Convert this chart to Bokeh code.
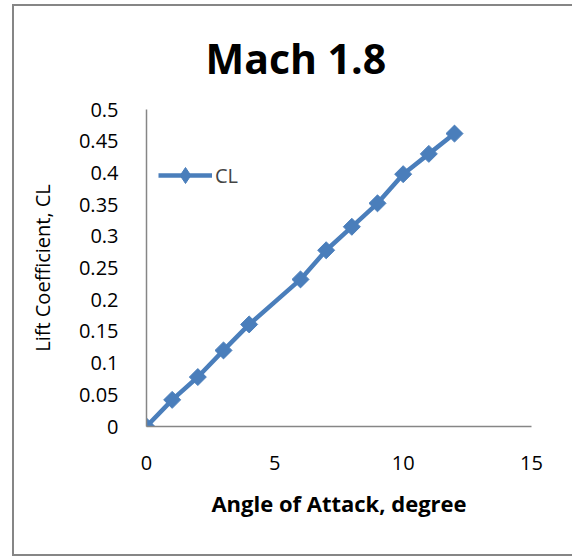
import math
from bokeh.plotting import figure
from bokeh.models import FixedTicker, Range1d, Legend
from bokeh.embed import file_html
from bokeh.resources import INLINE

# data
aoa_deg = [0, 1, 2, 3, 4, 6, 7, 8, 9, 10, 11, 12]
cl_values = [0, 0.042, 0.078, 0.12, 0.161, 0.232, 0.278, 0.315, 0.352, 0.398, 0.43, 0.462]
x_ticks = [0, 5, 10, 15]
y_ticks = [0, 0.05, 0.1, 0.15, 0.2, 0.25, 0.3, 0.35, 0.4, 0.45, 0.5]
series_name = "CL"

FONT = "Open Sans"
BLUE = "#4a7ebb"
GRAY = "#868686"

p = figure(width=572, height=557, output_backend="svg", toolbar_location=None,
           x_range=Range1d(0, 15), y_range=Range1d(0, 0.5),
           min_border_left=146, min_border_right=41, min_border_top=109, min_border_bottom=131)

# outer chart-area border drawn as page background behind a transparent canvas
g = f"linear-gradient({GRAY},{GRAY})"
p.border_fill_color = None
p.background_fill_color = "white"
p.styles = {
    "background": (f"{g} 12px 4px / 2px 552px no-repeat, "
                   f"{g} 12px 4px / 570px 2px no-repeat, "
                   f"{g} 12px 554px / 570px 2px no-repeat, white"),
}

p.title.text = "Mach 1.8"
p.title.text_font = FONT
p.title.text_font_size = "41px"
p.title.text_font_style = "bold"
p.title.text_color = "black"
p.title.align = "left"
p.title.offset = 59
p.title.standoff = 48

p.outline_line_color = None
p.grid.visible = False

for ax in (p.xaxis[0], p.yaxis[0]):
    ax.axis_line_color = GRAY
    ax.axis_line_width = 1.5
    ax.major_tick_line_color = None
    ax.minor_tick_line_color = None
    ax.major_label_text_font = FONT
    ax.major_label_text_font_size = "20px"
    ax.major_label_text_color = "black"
    ax.axis_label_text_font = FONT
    ax.axis_label_text_color = "black"

p.xaxis.ticker = FixedTicker(ticks=x_ticks)
p.yaxis.ticker = FixedTicker(ticks=y_ticks)
p.xaxis.axis_label = "Angle of Attack, degree"
p.xaxis.axis_label_text_font_style = "bold"
p.xaxis.axis_label_text_font_size = "22px"
p.yaxis.axis_label = "Lift Coefficient, CL"
p.yaxis.axis_label_text_font_style = "normal"
p.yaxis.axis_label_text_font_size = "20px"
p.xaxis.major_label_standoff = 23
p.yaxis.major_label_standoff = 22
p.xaxis.axis_label_standoff = 15
p.yaxis.axis_label_standoff = 20

r_line = p.line(aoa_deg, cl_values, line_color=BLUE, line_width=4.5)
r_pts = p.scatter(aoa_deg, cl_values, marker="square", size=12, angle=math.pi / 4,
                  fill_color=BLUE, line_color=BLUE)
# legend-only marker (legend markers are drawn unrotated, so use a diamond shape)
r_key = p.scatter([float("nan")], [float("nan")], marker="diamond",
                  fill_color=BLUE, line_color=BLUE)

legend = Legend(items=[(series_name, [r_line, r_key])], location=(12, 231),
                padding=0, margin=0, spacing=0, glyph_width=54, glyph_height=40,
                label_standoff=3, label_text_font=FONT, label_text_font_size="20px",
                background_fill_alpha=0, border_line_color=None)
p.add_layout(legend, "center")

open("out.html", "w").write(file_html(p, INLINE))
